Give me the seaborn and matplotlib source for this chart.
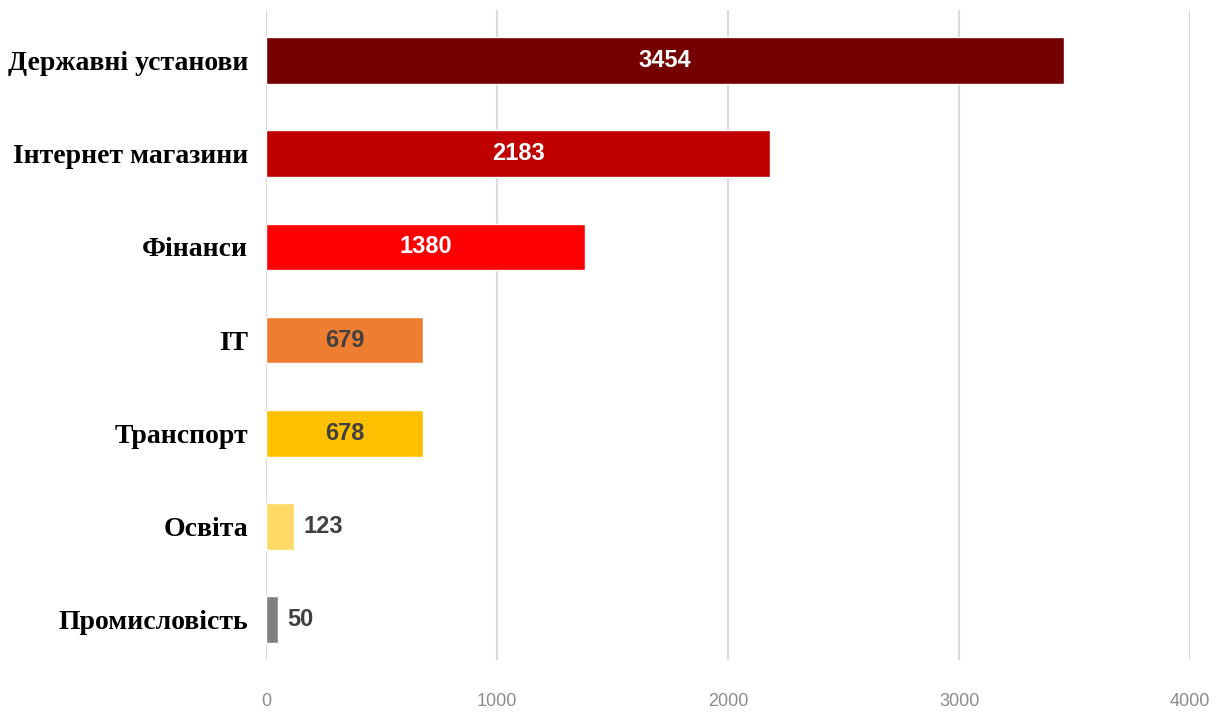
import matplotlib
matplotlib.use("Agg")
import matplotlib.pyplot as plt
import seaborn as sns
import pandas as pd

categories = ["Державні установи", "Інтернет магазини", "Фінанси", "IT",
              "Транспорт", "Освіта", "Промисловість"]
values = [3454, 2183, 1380, 679, 678, 123, 50]
colors = ["#750000", "#C00000", "#FF0000", "#ED7D31", "#FFC000", "#FFD966", "#808080"]
label_colors = ["white", "white", "white", "#404040", "#404040", "#404040", "#404040"]
inside = [True, True, True, True, True, False, False]
xticks = [0, 1000, 2000, 3000, 4000]

sns.set_style("white")
plt.rcParams["font.family"] = ["Liberation Sans", "DejaVu Sans"]

df = pd.DataFrame({"cat": categories, "val": values})

fig = plt.figure(figsize=(12.17, 7.18), dpi=100)
ax = fig.add_axes([0.2186, 0.081, 0.7594, 0.905])
sns.barplot(data=df, y="cat", x="val", hue="cat", palette=colors, legend=False,
            width=0.5, ax=ax, orient="h", saturation=1)

ax.set_xlim(0, 4000)
ax.set_ylim(6.43, -0.54)
ax.set_xticks(xticks)
ax.set_xticklabels([str(t) for t in xticks], color="#8c8c8c", fontsize=13)
ax.grid(axis="x", color="#dadada", linewidth=1.6)
ax.set_axisbelow(True)
for s in ax.spines.values():
    s.set_visible(False)
ax.tick_params(axis="x", length=0, pad=24)
ax.tick_params(axis="y", length=0, pad=13)
ax.set_xlabel("")
ax.set_ylabel("")
for lab in ax.get_yticklabels():
    lab.set_fontfamily(["Liberation Serif", "DejaVu Serif"])
    lab.set_fontweight("bold")
    lab.set_fontsize(20)
    lab.set_color("black")

for i, (v, c, ins) in enumerate(zip(values, label_colors, inside)):
    if ins:
        ax.text(v / 2, i, str(v), ha="center", va="center", color=c,
                fontsize=17, fontweight="bold")
    else:
        ax.text(v + 40, i, str(v), ha="left", va="center", color=c,
                fontsize=17, fontweight="bold")

fig.savefig("out.png", dpi=100)
